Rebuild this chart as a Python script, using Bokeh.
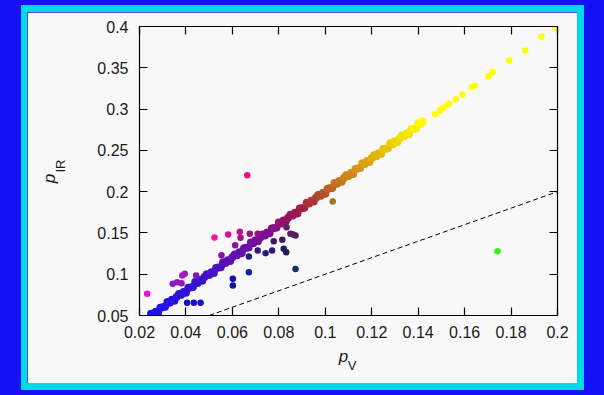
from bokeh.plotting import figure
from bokeh.models import LinearAxis, FixedTicker, ColumnDataSource
from bokeh.embed import file_html
from bokeh.resources import INLINE

# ---------------- data ----------------
# dense band along p_IR ~ 2 p_V
pv_band = [0.025, 0.026, 0.027, 0.028, 0.029, 0.030, 0.031, 0.032, 0.033, 0.034,
           0.035, 0.036, 0.037, 0.038, 0.039, 0.040, 0.041, 0.042, 0.043, 0.044,
           0.045, 0.046, 0.047, 0.048, 0.049, 0.050, 0.051, 0.052, 0.053, 0.054,
           0.055, 0.056, 0.057, 0.058, 0.059, 0.060, 0.061, 0.062, 0.063, 0.064,
           0.065, 0.066, 0.067, 0.068, 0.069, 0.070, 0.071, 0.072, 0.073, 0.074,
           0.075, 0.076, 0.077, 0.078, 0.079, 0.080, 0.081, 0.082, 0.083, 0.084,
           0.085, 0.086, 0.087, 0.088, 0.089, 0.090, 0.091, 0.092, 0.093, 0.094,
           0.095, 0.096, 0.097, 0.098, 0.099, 0.100, 0.101, 0.102, 0.103, 0.104,
           0.105, 0.106, 0.107, 0.108, 0.109, 0.110, 0.111, 0.112, 0.113, 0.114,
           0.115, 0.116, 0.117, 0.118, 0.119, 0.120, 0.121, 0.122, 0.123, 0.124,
           0.125, 0.126, 0.127, 0.128, 0.129, 0.130, 0.131, 0.132, 0.133, 0.134,
           0.135, 0.136, 0.137, 0.138, 0.139, 0.140, 0.141, 0.142]
pir_band = [0.0520, 0.0510, 0.0545, 0.0535, 0.0595, 0.0600, 0.0605, 0.0665, 0.0655, 0.0690,
            0.0680, 0.0725, 0.0760, 0.0750, 0.0785, 0.0775, 0.0835, 0.0840, 0.0845, 0.0905,
            0.0895, 0.0930, 0.0920, 0.0965, 0.1000, 0.0990, 0.1025, 0.1015, 0.1075, 0.1080,
            0.1085, 0.1145, 0.1135, 0.1170, 0.1160, 0.1205, 0.1240, 0.1230, 0.1265, 0.1255,
            0.1315, 0.1320, 0.1325, 0.1385, 0.1375, 0.1410, 0.1400, 0.1445, 0.1480, 0.1470,
            0.1505, 0.1495, 0.1555, 0.1560, 0.1565, 0.1625, 0.1615, 0.1650, 0.1640, 0.1685,
            0.1720, 0.1710, 0.1745, 0.1735, 0.1795, 0.1800, 0.1805, 0.1865, 0.1855, 0.1890,
            0.1880, 0.1925, 0.1960, 0.1950, 0.1985, 0.1975, 0.2035, 0.2040, 0.2045, 0.2105,
            0.2095, 0.2130, 0.2120, 0.2165, 0.2200, 0.2190, 0.2225, 0.2215, 0.2275, 0.2280,
            0.2285, 0.2345, 0.2335, 0.2370, 0.2360, 0.2405, 0.2440, 0.2430, 0.2465, 0.2455,
            0.2515, 0.2520, 0.2525, 0.2585, 0.2575, 0.2610, 0.2600, 0.2645, 0.2680, 0.2670,
            0.2705, 0.2695, 0.2755, 0.2760, 0.2765, 0.2825, 0.2815, 0.2850]
# sparse points at the top of the band
pv_top = [0.1473, 0.1493, 0.1508, 0.1525, 0.1534, 0.1562, 0.1591, 0.1631, 0.1643,
          0.1702, 0.1721, 0.1792, 0.1861, 0.1931, 0.1990]
pir_top = [0.2934, 0.2983, 0.3015, 0.3051, 0.3064, 0.3119, 0.3175, 0.3264, 0.3281,
           0.3397, 0.3450, 0.3588, 0.3709, 0.3875, 0.3991]

# points off the band
pv_out = [0.0233, 0.0405, 0.0434, 0.0463, 0.0343, 0.0362, 0.0381, 0.0384, 0.0395, 0.0444,
          0.0553, 0.0523, 0.0582, 0.0632, 0.0635, 0.0675, 0.0709, 0.0612, 0.0664, 0.0602,
          0.0602, 0.0671, 0.0872, 0.0671, 0.0709, 0.0743, 0.0771, 0.0778, 0.0815, 0.0821,
          0.0832, 0.0850, 0.0872, 0.0862, 0.0833, 0.1032, 0.1742]
pir_out = [0.0763, 0.0654, 0.0654, 0.0654, 0.0884, 0.0904, 0.0891, 0.0984, 0.1005, 0.0984,
           0.1230, 0.1445, 0.1481, 0.1514, 0.1441, 0.1489, 0.1489, 0.1352, 0.2199, 0.0944,
           0.0863, 0.1025, 0.1064, 0.1215, 0.1287, 0.1254, 0.1287, 0.1400, 0.1416, 0.1307,
           0.1266, 0.1489, 0.1469, 0.1480, 0.1569, 0.1880, 0.1279]
out_colours = ["#f010d8", "#1410c0", "#1410c0", "#1410c0", "#9018c0", "#9018c0", "#9018c0",
               "#a018c8", "#a018c8", "#8018b0", "#8810a8", "#f01898", "#d81090", "#c01088",
               "#a81088", "#a01080", "#901078", "#901090", "#f01080", "#1010a8", "#1010a8",
               "#1020a0", "#103068", "#281c88", "#301a78", "#281a78", "#301a70", "#401868",
               "#401868", "#201c68", "#202060", "#502058", "#502058", "#582058", "#602058",
               "#957828", "#38ec18"]

ref_x = [0.05, 0.2]
ref_y = [0.05, 0.2]

x_ticks = [0.02, 0.04, 0.06, 0.08, 0.1, 0.12, 0.14, 0.16, 0.18, 0.2]
x_tick_labels = ["0.02", "0.04", "0.06", "0.08", "0.1", "0.12", "0.14", "0.16", "0.18", "0.2"]
y_ticks = [0.05, 0.1, 0.15, 0.2, 0.25, 0.3, 0.35, 0.4]
y_tick_labels = ["0.05", "0.1", "0.15", "0.2", "0.25", "0.3", "0.35", "0.4"]

# ---------------- colour scale for the band (by p_IR) ----------------
stops = [(0.05, "#1a14e8"), (0.075, "#2a12dc"), (0.10, "#4410c8"), (0.125, "#6010b0"),
         (0.15, "#800c94"), (0.177, "#a01848"), (0.195, "#b04830"), (0.213, "#c87820"),
         (0.238, "#dcaa10"), (0.262, "#f0d800"), (0.286, "#ffff00"), (0.41, "#ffff00")]


def hex2rgb(h):
    return tuple(int(h[i:i + 2], 16) for i in (1, 3, 5))


def band_colour(v):
    for (a, ca), (b, cb) in zip(stops[:-1], stops[1:]):
        if v <= b:
            t = max(0.0, min(1.0, (v - a) / (b - a)))
            ra, rb = hex2rgb(ca), hex2rgb(cb)
            return "#%02x%02x%02x" % tuple(int(round(x + (y - x) * t)) for x, y in zip(ra, rb))
    return stops[-1][1]


FONT = "Liberation Sans"
INK = "#1a1a1a"

p = figure(frame_width=418, frame_height=289,
           x_range=(0.02, 0.2), y_range=(0.05, 0.4),
           output_backend="svg", toolbar_location=None,
           min_border_left=112, min_border_right=20, min_border_top=14, min_border_bottom=68,
           background_fill_color="#f8f8f8", border_fill_color="#f8f8f8",
           outline_line_color=None)
p.xgrid.visible = False
p.ygrid.visible = False

p.line(ref_x, ref_y, line_color="black", line_width=1, line_dash="5 3")

p.scatter(x="x", y="y", color="c", size=8, line_color=None,
          source=ColumnDataSource(dict(x=pv_band, y=pir_band,
                                       c=[band_colour(v) for v in pir_band])))
p.scatter(x="x", y="y", color="c", size=6.5, line_color=None,
          source=ColumnDataSource(dict(x=pv_top, y=pir_top,
                                       c=[band_colour(v) for v in pir_top])))
p.scatter(x="x", y="y", color="c", size=6.5, line_color=None,
          source=ColumnDataSource(dict(x=pv_out, y=pir_out, c=out_colours)))


def style_axis(ax, ticks, labels, show):
    ax.ticker = FixedTicker(ticks=ticks)
    ax.major_label_overrides = {t: l for t, l in zip(ticks, labels)}
    ax.major_tick_in = 8
    ax.major_tick_out = 0
    ax.minor_tick_line_color = None
    ax.axis_line_color = "black"
    ax.axis_line_width = 1.2
    ax.major_tick_line_color = "black"
    ax.major_tick_line_width = 1.2
    ax.axis_label = None
    if show:
        ax.major_label_text_font = FONT
        ax.major_label_text_font_size = "16px"
        ax.major_label_text_color = INK
    else:
        ax.major_label_text_color = None
        ax.major_label_text_font_size = "1px"
        ax.major_label_standoff = 0


style_axis(p.xaxis[0], x_ticks, x_tick_labels, True)
style_axis(p.yaxis[0], y_ticks, y_tick_labels, True)
p.xaxis[0].major_label_standoff = 10
p.yaxis[0].major_label_standoff = 11

top = LinearAxis()
style_axis(top, x_ticks, x_tick_labels, False)
p.add_layout(top, "above")
right = LinearAxis()
style_axis(right, y_ticks, y_tick_labels, False)
p.add_layout(right, "right")

# ---------------- axis titles p_V and p_IR (text carried by label-only axes) ----------------
FX0, FY1 = 139, 315          # frame left / bottom in window pixels


def dx(px):
    return 0.02 + (px - FX0) / 418 * 0.18


def dy(py):
    return 0.05 + (FY1 - py) / 289 * 0.35


def carrier(pos, text, size, style, standoff, orientation="horizontal"):
    ax = LinearAxis(ticker=FixedTicker(ticks=[pos]), major_label_overrides={pos: text})
    ax.axis_line_color = None
    ax.major_tick_line_color = None
    ax.minor_tick_line_color = None
    ax.major_tick_out = 0
    ax.major_tick_in = 0
    ax.axis_label = None
    ax.major_label_text_font = FONT
    ax.major_label_text_font_size = size
    ax.major_label_text_font_style = style
    ax.major_label_text_color = INK
    ax.major_label_standoff = standoff
    ax.major_label_orientation = orientation
    return ax


xp = dx(343)
xv = dx(351.5)
yp = dy(178)
yir = dy(165.5)
p.add_layout(carrier(xp, "p", "17px", "italic", 6), "below")
p.add_layout(carrier(xv, "V", "13px", "normal", -11), "below")
p.add_layout(carrier(yir, "IR", "13px", "normal", 27, "vertical"), "left")
p.add_layout(carrier(yp, "p", "17px", "italic", -9, "vertical"), "left")

p.styles = {"border-style": "solid", "border-color": "#00d8ec",
            "border-width": "7px 7px 7px 6px",
            "margin-left": "21px", "margin-top": "5px"}

html = file_html(p, INLINE)
html = html.replace("</head>", "<style>html,body{background:#1212f4;}</style></head>", 1)
open("out.html", "w").write(html)
